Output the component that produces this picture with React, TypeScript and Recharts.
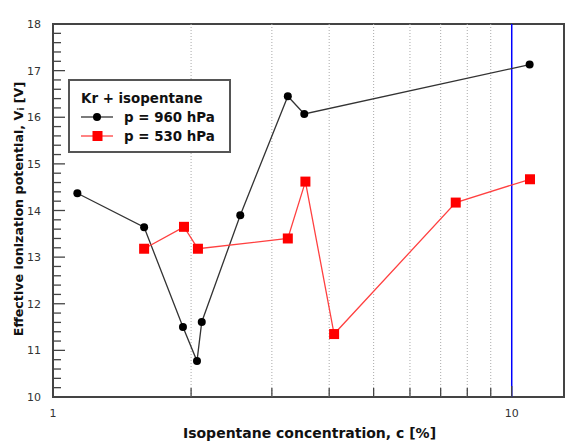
import React from 'react';
import { LineChart, Line, XAxis, YAxis, ReferenceLine, ReferenceArea } from 'recharts';

const conc960 = [1.13, 1.58, 1.92, 2.06, 2.11, 2.56, 3.25, 3.53, 10.94];
const v960 = [14.37, 13.64, 11.5, 10.77, 11.61, 13.9, 16.45, 16.07, 17.13];
const conc530 = [1.58, 1.93, 2.07, 3.25, 3.55, 4.1, 7.55, 10.96];
const v530 = [13.18, 13.65, 13.18, 13.4, 14.62, 11.35, 14.17, 14.67];

const xTicks = [1, 2, 3, 4, 5, 6, 7, 8, 9, 10];
const xLabels = [1, 10];
const xGrid = [2, 3, 4, 5, 6, 7, 8, 9];
const yMajor = [10, 11, 12, 13, 14, 15, 16, 17, 18];
const yTicks = yMajor.flatMap((v, i) => (i < yMajor.length - 1 ? [v, v + 0.2, v + 0.4, v + 0.6, v + 0.8] : [v]));

const legendTitle = 'Kr + isopentane';
const series960 = 'p = 960 hPa';
const series530 = 'p = 530 hPa';

const data960 = conc960.map((c, i) => ({ c, v: v960[i] }));
const data530 = conc530.map((c, i) => ({ c, v: v530[i] }));

const FONT = 'DejaVu Sans, Verdana, sans-serif';
const FRAME = '#444';

const isMajorY = (v: number) => Math.abs(v - Math.round(v)) < 1e-6;

const BottomTick = (p: any) => {
  const v = p.payload.value;
  const major = v === 1 || v === 10;
  return (
    <g>
      <line x1={p.x} x2={p.x} y1={p.y} y2={p.y - (major ? 11 : 9)} stroke={FRAME} strokeWidth={1.3} />
      {xLabels.includes(v) && (
        <text x={p.x} y={p.y + 20} textAnchor="middle" fontFamily={FONT} fontSize={11} fill="#333">
          {v}
        </text>
      )}
    </g>
  );
};

const TopTick = (p: any) => {
  const v = p.payload.value;
  const major = v === 1 || v === 10;
  return <line x1={p.x} x2={p.x} y1={p.y} y2={p.y + (major ? 11 : 9)} stroke={FRAME} strokeWidth={1.3} />;
};

const LeftTick = (p: any) => {
  const v = p.payload.value;
  const major = isMajorY(v);
  return (
    <g>
      <line x1={p.x} x2={p.x + (major ? 12 : 8)} y1={p.y} y2={p.y} stroke={FRAME} strokeWidth={1.3} />
      {major && (
        <text x={p.x - 12} y={p.y + 4} textAnchor="end" fontFamily={FONT} fontSize={11} fill="#333">
          {Math.round(v)}
        </text>
      )}
    </g>
  );
};

const RightTick = (p: any) => {
  const v = p.payload.value;
  const major = isMajorY(v);
  return <line x1={p.x} x2={p.x - (major ? 13 : 8)} y1={p.y} y2={p.y} stroke={FRAME} strokeWidth={1.3} />;
};

const SquareDot = (p: any) => {
  const { cx, cy, index } = p;
  if (cx == null || cy == null) return <g key={`sq-${index}`} />;
  return <rect key={`sq-${index}`} x={cx - 5} y={cy - 5} width={10} height={10} fill="#ff0000" />;
};

const LegendBox = () => (
  <div
    style={{
      position: 'absolute',
      left: 68,
      top: 79,
      width: 163,
      height: 74,
      border: `2px solid #555`,
      background: '#fff',
      boxSizing: 'border-box',
    }}
  >
    <svg width={163} height={74} style={{ position: 'absolute', left: -2, top: -2 }}>
      <text x={13} y={23.5} fontFamily={FONT} fontWeight="bold" fontSize={13.4} fill="#111">
        {legendTitle}
      </text>
      <line x1={13} x2={45} y1={38} y2={38} stroke="#333" strokeWidth={1.3} />
      <circle cx={29} cy={38} r={4} fill="#000" />
      <text x={56} y={42.5} fontFamily={FONT} fontWeight="bold" fontSize={13.4} fill="#111">
        {series960}
      </text>
      <line x1={13} x2={45} y1={57} y2={57} stroke="#ff4040" strokeWidth={1.3} />
      <rect x={24.5} y={52} width={10} height={10} fill="#ff0000" />
      <text x={56} y={61.5} fontFamily={FONT} fontWeight="bold" fontSize={13.4} fill="#111">
        {series530}
      </text>
    </svg>
  </div>
);

const XTitle = (props: any) => {
  const vb = props.viewBox;
  return (
    <text x={vb.x + vb.width / 2 + 1} y={vb.y + 41} textAnchor="middle" fontFamily={FONT} fontWeight="bold" fontSize={14} fill="#111">
      Isopentane concentration, c [%]
    </text>
  );
};

const YTitle = (props: any) => {
  const vb = props.viewBox;
  const cx = 18;
  const cy = vb.y + vb.height / 2 - 1.5;
  return (
    <text
      x={cx}
      y={cy}
      transform={`rotate(-90 ${cx} ${cy})`}
      textAnchor="middle"
      dominantBaseline="central"
      fontFamily={FONT}
      fontWeight="bold"
      fontSize={12.7}
      fill="#111"
    >
      Effective ionization potential, V
      <tspan fontSize={8.5} dy={3}>i</tspan>
      <tspan dy={-3}> [V]</tspan>
    </text>
  );
};

export default function App() {
  return (
    <div style={{ position: 'absolute', left: 0, top: 0, width: 577, height: 443, background: '#fff' }}>
      <LineChart width={577} height={443} margin={{ top: 24, right: 13, bottom: 0, left: 0 }}>
        <XAxis
          xAxisId={0}
          dataKey="c"
          type="number"
          scale="log"
          domain={[1, 13]}
          allowDataOverflow
          ticks={xTicks}
          interval={0}
          tickSize={0}
          tickMargin={0}
          tickLine={false}
          axisLine={false}
          tick={BottomTick}
          height={46}
          label={<XTitle />}
        />
        <XAxis
          xAxisId="top"
          orientation="top"
          dataKey="c"
          type="number"
          scale="log"
          domain={[1, 13]}
          allowDataOverflow
          ticks={xTicks}
          interval={0}
          tickSize={0}
          tickMargin={0}
          tickLine={false}
          axisLine={false}
          tick={TopTick}
          height={0}
        />
        <YAxis
          yAxisId={0}
          type="number"
          domain={[10, 18]}
          allowDataOverflow
          ticks={yTicks}
          interval={0}
          tickSize={0}
          tickMargin={0}
          tickLine={false}
          axisLine={false}
          tick={LeftTick}
          width={53}
          label={<YTitle />}
        />
        <YAxis
          yAxisId="right"
          orientation="right"
          type="number"
          domain={[10, 18]}
          allowDataOverflow
          ticks={yTicks}
          interval={0}
          tickSize={0}
          tickMargin={0}
          tickLine={false}
          axisLine={false}
          tick={RightTick}
          width={0}
        />
        {xGrid.map((g) => (
          <ReferenceLine key={`g${g}`} x={g} stroke="#aaa" strokeDasharray="1 2" strokeWidth={1} />
        ))}
        <ReferenceLine x={10} stroke="#0000ff" strokeWidth={1.5} />
        <ReferenceArea x1={1} x2={13} y1={10} y2={18} fill="none" fillOpacity={0} stroke={FRAME} strokeWidth={2} />
        <Line
          data={data960}
          dataKey="v"
          stroke="#333"
          strokeWidth={1.3}
          dot={{ r: 4, fill: '#000', stroke: '#000', strokeWidth: 0 }}
          isAnimationActive={false}
          legendType="none"
        />
        <Line
          data={data530}
          dataKey="v"
          stroke="#ff4040"
          strokeWidth={1.3}
          dot={SquareDot}
          isAnimationActive={false}
          legendType="none"
        />
      </LineChart>
      <LegendBox />
    </div>
  );
}
